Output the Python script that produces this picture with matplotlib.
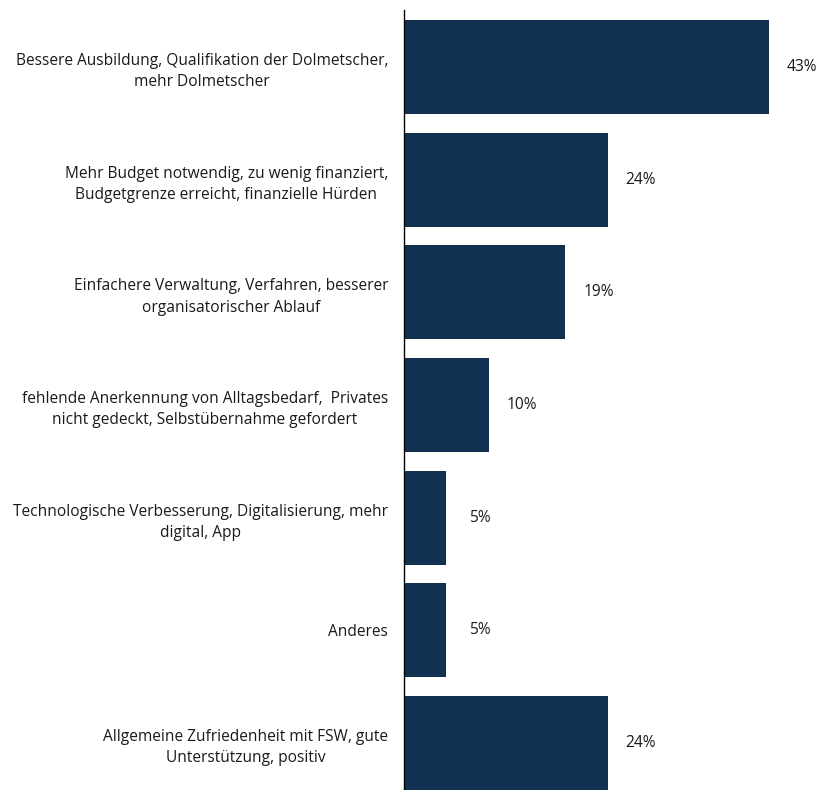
import matplotlib.pyplot as plt

# Antwortkategorien und Anteile (%)
categories = [
    "Bessere Ausbildung, Qualifikation der Dolmetscher,\nmehr Dolmetscher",
    "Mehr Budget notwendig, zu wenig finanziert,\nBudgetgrenze erreicht, finanzielle Hürden",
    "Einfachere Verwaltung, Verfahren, besserer\norganisatorischer Ablauf",
    "fehlende Anerkennung von Alltagsbedarf,  Privates\nnicht gedeckt, Selbstübernahme gefordert",
    "Technologische Verbesserung, Digitalisierung, mehr\ndigital, App",
    "Anderes",
    "Allgemeine Zufriedenheit mit FSW, gute\nUnterstützung, positiv",
]
values = [43, 24, 19, 10, 5, 5, 24]

plt.rcParams['font.family'] = ['Open Sans', 'DejaVu Sans']

fig = plt.figure(figsize=(8.28, 7.9), dpi=100)
ax = fig.add_axes([404 / 828, 0, 424 / 828, 1 - 10 / 790])

bar_color = '#12304f'
pos = list(range(len(categories)))
ax.barh(pos, values, height=0.834, color=bar_color)

for p, v in zip(pos, values):
    ax.annotate(f"{v}%", (v, p), xytext=(24, 0), textcoords='offset points',
                ha='center', va='center', fontsize=11.2, color='#1a1a1a')

ax.set_yticks(pos)
ax.set_yticklabels(categories, fontsize=11.2, color='#1a1a1a',
                   multialignment='center', linespacing=1.45)
ax.tick_params(axis='y', length=0, pad=11.5)
ax.set_xlim(0, 50)
ax.set_ylim(6.417, -0.506)
ax.xaxis.set_visible(False)
for s in ['top', 'right', 'bottom']:
    ax.spines[s].set_visible(False)
ax.spines['left'].set_color('black')
ax.spines['left'].set_linewidth(1)

fig.savefig('out.png', dpi=100)
